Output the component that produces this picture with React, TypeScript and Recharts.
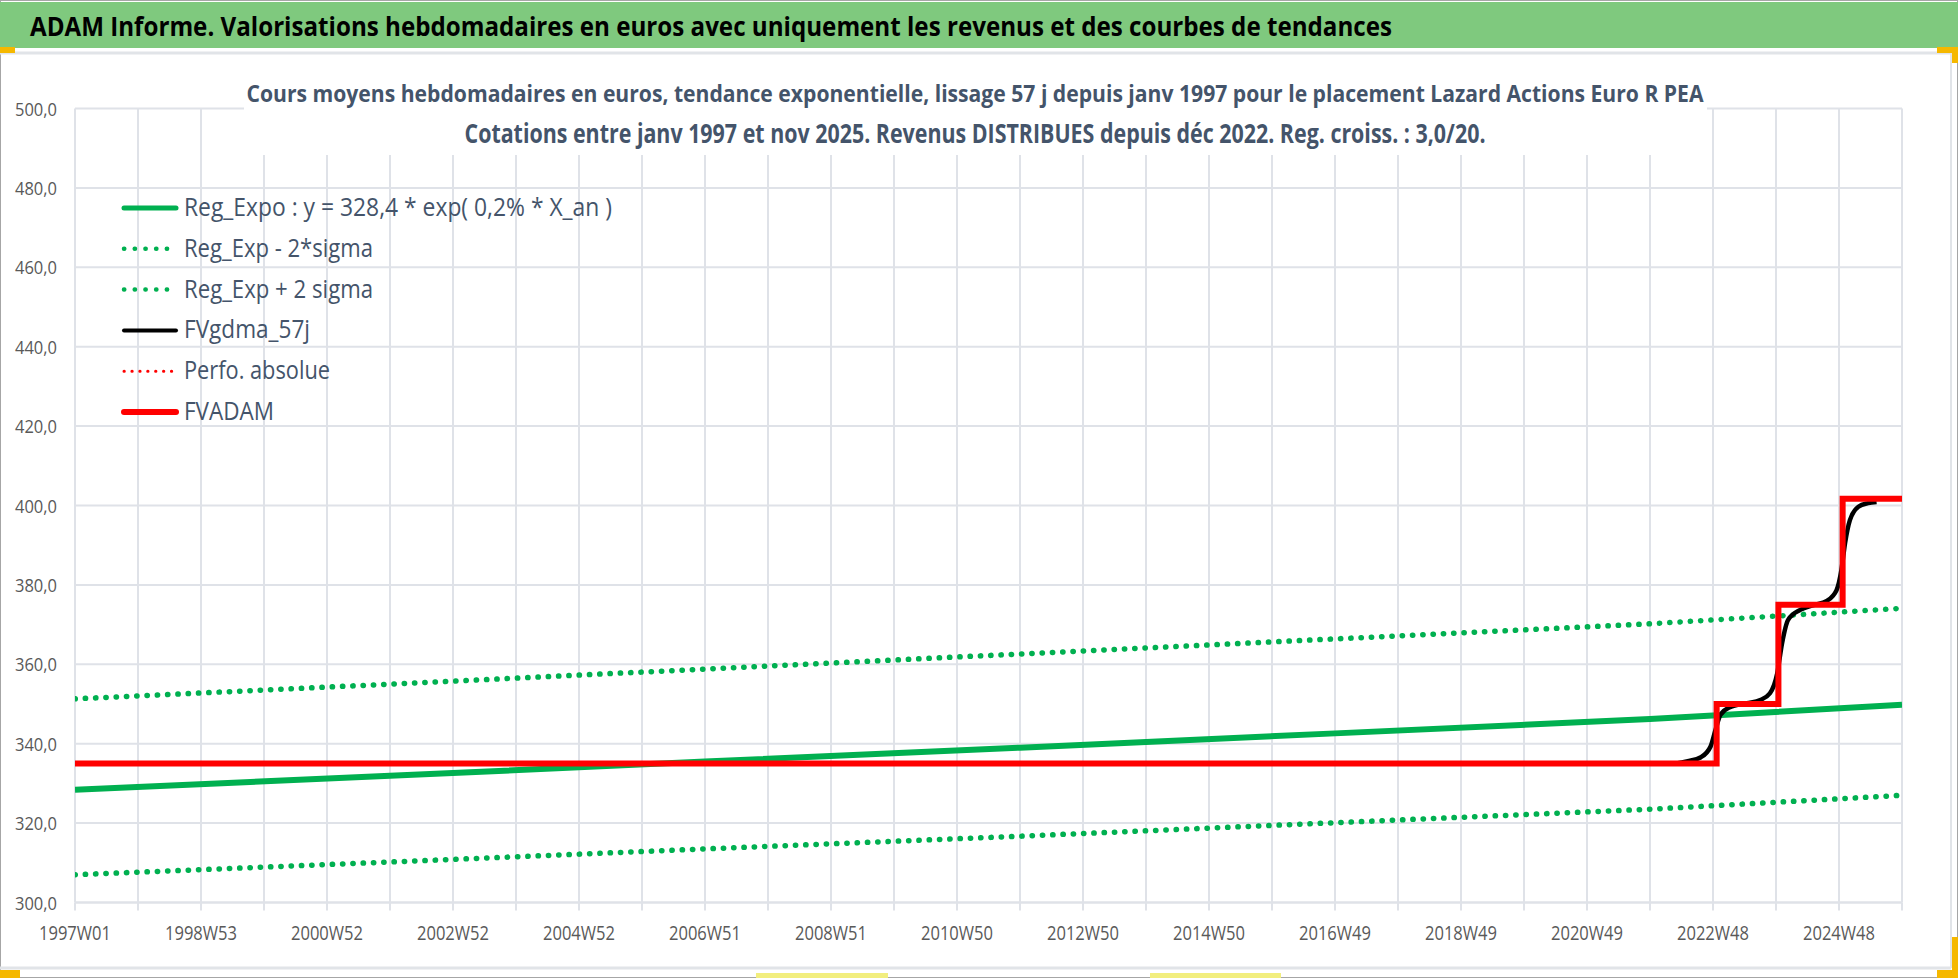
import { CartesianGrid, Line, LineChart, XAxis, YAxis } from "recharts";

const TITLE =
  "ADAM Informe. Valorisations hebdomadaires en euros avec uniquement les revenus et des courbes de tendances";
const SUBTITLE_1 =
  "Cours moyens hebdomadaires en euros, tendance exponentielle, lissage 57 j depuis janv 1997 pour le placement Lazard Actions Euro R PEA";
const SUBTITLE_2 =
  "Cotations entre janv 1997 et nov 2025. Revenus DISTRIBUES depuis déc 2022. Reg. croiss. : 3,0/20.";

// x axis: week index since 1997W01, a label every 104 weeks
const X_LABELS = [
  "1997W01", "1998W53", "2000W52", "2002W52", "2004W52",
  "2006W51", "2008W51", "2010W50", "2012W50", "2014W50",
  "2016W49", "2018W49", "2020W49", "2022W48", "2024W48",
];
const LAST_WEEK = 1508;
const Y_TICKS = [300, 320, 340, 360, 380, 400, 420, 440, 460, 480, 500];

// trend lines, read at a few weeks
const TREND_WEEKS = [0, 260, 520, 780, 1040, 1300, 1508];
const REG_EXPO = [328.4, 331.9, 335.5, 339.0, 342.6, 346.2, 349.8];
const REG_MINUS = [307.0, 310.2, 313.5, 316.7, 320.1, 323.5, 327.0];
const REG_PLUS = [351.3, 355.0, 358.8, 362.6, 366.4, 370.2, 374.1];

// FVADAM steps (value held until the next week)
const ADAM_WEEKS = [0, 1355, 1406, 1459, 1508];
const ADAM_VALUES = [335.0, 350.0, 375.0, 401.7, 401.7];

// FVgdma_57j smoothed curve
const GDMA_WEEKS = [
  0, 1320, 1331, 1342, 1350, 1354, 1358, 1366, 1380, 1391, 1399, 1405,
  1409, 1414, 1424, 1435, 1446, 1454, 1458, 1461, 1465, 1472, 1480, 1487,
];
const GDMA_VALUES = [
  335.0, 335.0, 335.6, 336.6, 339.3, 343.4, 347.2, 349.2, 350.2, 351.0, 352.7, 357.7,
  365.3, 371.2, 373.7, 374.9, 376.0, 378.7, 383.8, 390.5, 396.3, 399.7, 400.6, 400.9,
];

const toPoints = (weeks: number[], values: number[]) =>
  weeks.map((w, i) => ({ week: w, value: values[i] }));

const X_TICKS = Array.from({ length: LAST_WEEK / 52 + 1 }, (_, i) => i * 52);

const GRID = "#DFE2E8";
const GREEN = "#00B050";
const RED = "#FF0000";
const SLATE = "#44546A";
const FONT = "'Open Sans', 'Noto Sans', sans-serif";

const fmt = (v: number) => v.toFixed(1).replace(".", ",");

function YTick(props: any) {
  const { y, payload } = props;
  return (
    <text
      x={57}
      y={y + 7}
      textAnchor="end"
      fontFamily={FONT}
      fontSize={19}
      fill="#595959"
      textLength={42}
      lengthAdjust="spacingAndGlyphs"
    >
      {fmt(payload.value)}
    </text>
  );
}

function XTick(props: any) {
  const { x, payload } = props;
  const idx = payload.value / 104;
  if (!Number.isInteger(idx) || !X_LABELS[idx]) return <g />;
  return (
    <text
      x={x}
      y={940}
      textAnchor="middle"
      fontFamily={FONT}
      fontSize={20}
      fill="#595959"
      textLength={72}
      lengthAdjust="spacingAndGlyphs"
    >
      {X_LABELS[idx]}
    </text>
  );
}

const LEGEND = [
  { label: "Reg_Expo : y = 328,4 * exp( 0,2% *  X_an )", color: GREEN, width: 5, dash: undefined, len: 428 },
  { label: "Reg_Exp - 2*sigma", color: GREEN, width: 4.5, dash: "0.3 10.4", len: 189 },
  { label: "Reg_Exp + 2 sigma", color: GREEN, width: 4.5, dash: "0.3 10.4", len: 189 },
  { label: "FVgdma_57j", color: "#000000", width: 4, dash: undefined, len: 126 },
  { label: "Perfo. absolue", color: RED, width: 3, dash: "0.3 7.6", len: 146 },
  { label: "FVADAM", color: RED, width: 6, dash: undefined, len: 90 },
];

function Overlay() {
  return (
    <svg
      width={1958}
      height={978}
      style={{ position: "absolute", left: 0, top: 0, pointerEvents: "none" }}
    >
      {/* frame */}
      <rect x={0.5} y={0.5} width={1957} height={977} fill="none" stroke="#A6A6A6" />
      <rect x={0} y={2} width={1958} height={46} fill="#7FC97E" />
      <line x1={0} y1={53} x2={1951} y2={53} stroke="#E1E4E8" strokeWidth={3} />
      <line x1={1951} y1={53} x2={1951} y2={968} stroke="#E1E4E8" strokeWidth={2} />
      <line x1={0} y1={968} x2={1951} y2={968} stroke="#E1E4E8" strokeWidth={3} />
      <text
        x={30}
        y={36}
        fontFamily={FONT}
        fontWeight="bold"
        fontSize={27}
        fill="#000000"
        textLength={1362}
        lengthAdjust="spacingAndGlyphs"
      >
        {TITLE}
      </text>

      {/* selection handles */}
      <rect x={0} y={47} width={15} height={6} fill="#F5B800" />
      <rect x={1937} y={47} width={21} height={6} fill="#F5B800" />
      <rect x={1952} y={47} width={6} height={16} fill="#F5B800" />
      <rect x={0} y={970} width={20} height={8} fill="#F5B800" />
      <rect x={1937} y={970} width={21} height={8} fill="#F5B800" />
      <rect x={1952} y={937} width={6} height={41} fill="#F5B800" />
      <rect x={756} y={973} width={132} height={5} fill="#F2EE7E" />
      <rect x={1150} y={973} width={131} height={5} fill="#F2EE7E" />

      {/* chart title box */}
      <rect x={244} y={62} width={1463} height={93} fill="#FFFFFF" />
      <text
        x={975}
        y={102}
        textAnchor="middle"
        fontFamily={FONT}
        fontWeight="bold"
        fontSize={24}
        fill={SLATE}
        textLength={1457}
        lengthAdjust="spacingAndGlyphs"
      >
        {SUBTITLE_1}
      </text>
      <text
        x={975}
        y={143}
        textAnchor="middle"
        fontFamily={FONT}
        fontWeight="bold"
        fontSize={26}
        fill={SLATE}
        textLength={1021}
        lengthAdjust="spacingAndGlyphs"
      >
        {SUBTITLE_2}
      </text>

      {/* legend */}
      {LEGEND.map((item, i) => {
        const base = 216 + i * 40.8;
        return (
          <g key={item.label}>
            <line
              x1={124}
              x2={176}
              y1={base - 8}
              y2={base - 8}
              stroke={item.color}
              strokeWidth={item.width}
              strokeDasharray={item.dash}
              strokeLinecap="round"
            />
            <text
              x={184}
              y={base}
              fontFamily={FONT}
              fontSize={26}
              fill={SLATE}
              textLength={item.len}
              lengthAdjust="spacingAndGlyphs"
            >
              {item.label}
            </text>
          </g>
        );
      })}
    </svg>
  );
}

export default function App() {
  return (
    <div
      style={{
        position: "absolute",
        left: 0,
        top: 0,
        width: 1958,
        height: 978,
        background: "#FFFFFF",
        overflow: "hidden",
      }}
    >
      <style>{".dotted-line path { stroke-linecap: round; }"}</style>
      <div style={{ position: "absolute", left: 0, top: 0 }}>
        <LineChart
          width={1958}
          height={978}
          margin={{ top: 108.5, right: 56, bottom: 35.5, left: 0 }}
        >
          <CartesianGrid stroke={GRID} strokeWidth={2} />
          <XAxis
            type="number"
            dataKey="week"
            domain={[0, LAST_WEEK]}
            ticks={X_TICKS}
            allowDataOverflow
            height={40}
            tickSize={8}
            tickLine={{ stroke: GRID, strokeWidth: 2 }}
            axisLine={{ stroke: GRID, strokeWidth: 2 }}
            tick={<XTick />}
            interval={0}
          />
          <YAxis
            type="number"
            domain={[300, 500]}
            ticks={Y_TICKS}
            width={75}
            axisLine={false}
            tickLine={false}
            tick={<YTick />}
            interval={0}
          />
          <Line
            className="dotted-line"
            data={toPoints(TREND_WEEKS, REG_MINUS)}
            dataKey="value"
            type="linear"
            stroke={GREEN}
            strokeWidth={5.5}
            strokeDasharray="0.3 10"
            dot={false}
            isAnimationActive={false}
          />
          <Line
            className="dotted-line"
            data={toPoints(TREND_WEEKS, REG_PLUS)}
            dataKey="value"
            type="linear"
            stroke={GREEN}
            strokeWidth={5.5}
            strokeDasharray="0.3 10"
            dot={false}
            isAnimationActive={false}
          />
          <Line
            data={toPoints(TREND_WEEKS, REG_EXPO)}
            dataKey="value"
            type="linear"
            stroke={GREEN}
            strokeWidth={6}
            dot={false}
            isAnimationActive={false}
          />
          <Line
            data={toPoints(GDMA_WEEKS, GDMA_VALUES)}
            dataKey="value"
            type="monotone"
            stroke="#000000"
            strokeWidth={4.5}
            dot={false}
            isAnimationActive={false}
          />
          <Line
            data={toPoints(ADAM_WEEKS, ADAM_VALUES)}
            dataKey="value"
            type="stepAfter"
            stroke={RED}
            strokeWidth={6}
            dot={false}
            isAnimationActive={false}
          />
        </LineChart>
      </div>
      <Overlay />
    </div>
  );
}
